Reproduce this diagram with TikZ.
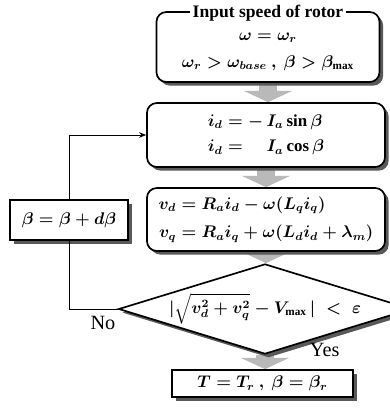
\documentclass[tikz,border=0pt]{standalone}
\usepackage{amsmath}
\usepackage{fontspec}
\setmainfont{Liberation Serif}
\usetikzlibrary{shapes.geometric,arrows.meta,shadows,positioning,backgrounds}

\begin{document}
\begin{tikzpicture}[
    x=0.025cm, y=-0.025cm,
    shade/.style={drop shadow={shadow xshift=0.09cm, shadow yshift=-0.09cm, fill=black!65, opacity=1}},
    rbox/.style={draw, line width=1.2pt, rounded corners=7pt, fill=white, align=center, font=\large\boldmath, shade},
    sbox/.style={draw, line width=1.2pt, fill=white, font=\large\boldmath, shade},
    dec/.style={diamond, draw, line width=1.2pt, fill=white, aspect=3.25, inner sep=0pt, font=\large\boldmath, shade},
    flow/.style={line width=13pt, draw=gray!55, -{Triangle[width=34pt,length=8pt]}},
    back/.style={line width=0.7pt, -{Stealth[length=5pt,width=4pt]}},
    lbl/.style={font=\Large}
]
\useasboundingbox (0,0) rectangle (390,410);

% ===== INPUT =====
\node[rbox, minimum width=5.575cm, minimum height=1.75cm] (in) at (268,47)
    {\\[-2pt]$\omega = \omega_r$\\[5pt] $\omega_r > \omega_{base}\ ,\ \beta > \beta_{\max}$};
\node[fill=white, inner sep=2pt, font=\fontsize{12.5}{14}\selectfont\bfseries] (title) at (268,13) {Input speed of rotor};

% ===== CURRENTS =====
\node[rbox, minimum width=5.95cm, minimum height=1.6cm] (cur) at (266,135)
    {$\begin{aligned} i_d &= -\,I_a \sin\beta \\[1pt] i_d &= \phantom{-\,}I_a \cos\beta \end{aligned}$};

% ===== VOLTAGES =====
\node[rbox, minimum width=5.95cm, minimum height=1.575cm] (volt) at (266,219.5)
    {$\begin{aligned} v_d &= R_a i_d - \omega(L_q i_q) \\[3pt] v_q &= R_a i_q + \omega(L_d i_d + \lambda_m) \end{aligned}$};

% ===== CHECK =====
\node[dec, minimum width=6.1cm, minimum height=1.875cm] (check) at (265,309)
    {$|\sqrt{v_d^2 + v_q^2} - V_{\max}\,| \;<\; \varepsilon$};

% ===== RESULT =====
\node[sbox, minimum width=4.525cm, minimum height=0.675cm] (out) at (262.5,383.5)
    {$T = T_r\ ,\ \beta = \beta_r$};

% ===== UPDATE =====
\node[sbox, minimum width=2.95cm, minimum height=1cm, font=\fontsize{13}{15}\selectfont\boldmath] (upd) at (69,220) {$\beta = \beta + d\beta$};

% flow arrows
\begin{scope}[on background layer]
\draw[flow] (in.south) -- (in.south |- cur.north);
\draw[flow] (cur.south) -- (volt.north);
\draw[flow] (volt.south) -- (volt.south |- check.north);
\draw[flow] (check.south) -- (check.south |- out.north);
\end{scope}

% feedback loop
\draw[line width=0.7pt] (check.west) -| (upd.south);
\draw[back] (upd.north) |- (cur.west);

\node[lbl, anchor=north] (no) at (103,311) {No};
\node[lbl, anchor=west] (yes) at (305,350) {Yes};

\end{tikzpicture}
\end{document}
